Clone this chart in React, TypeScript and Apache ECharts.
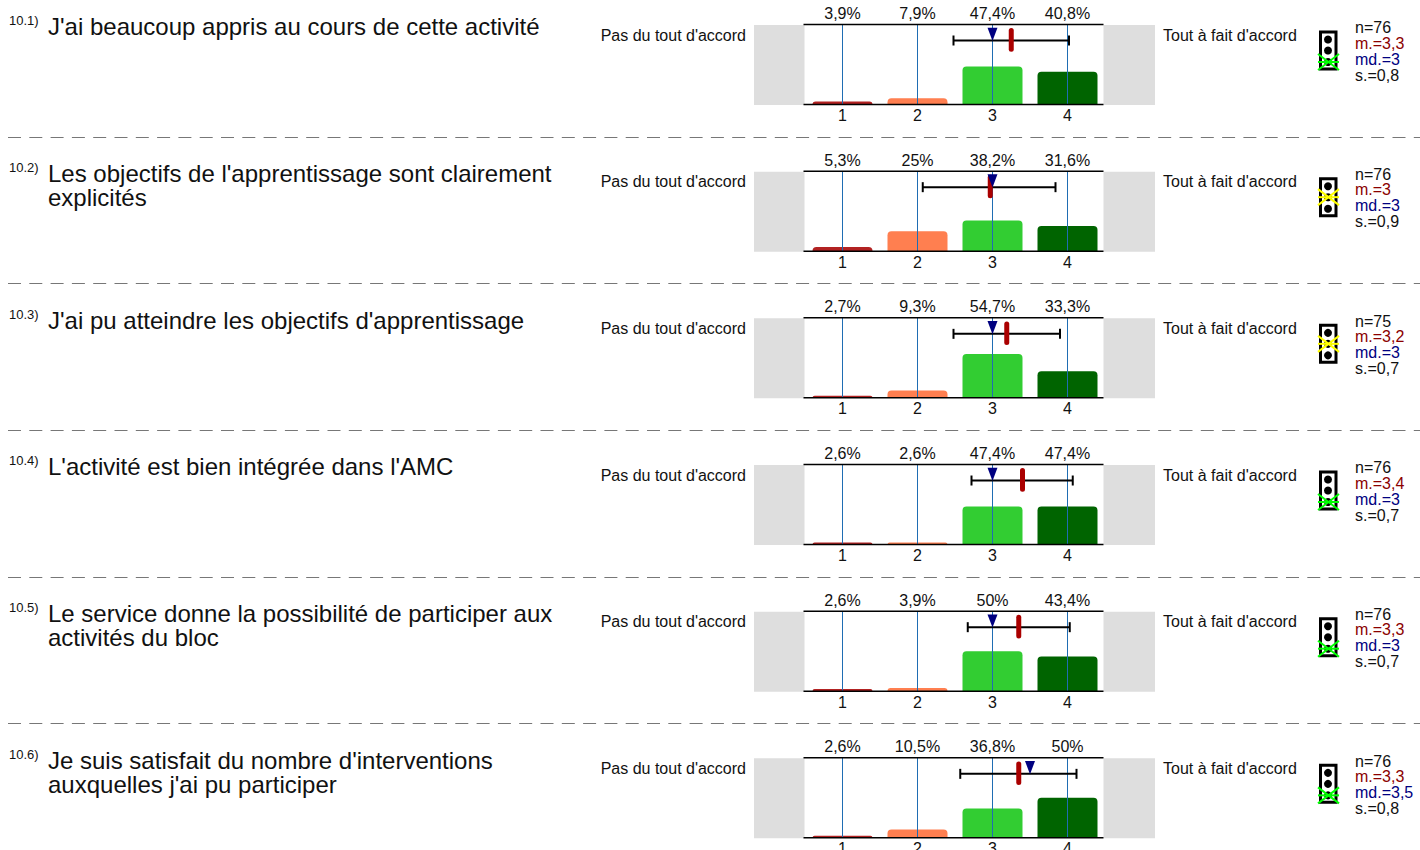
import React, { useEffect, useRef } from "react";
import * as echarts from "echarts";

const categories = ["1", "2", "3", "4"];
const questionIds = ["10.1)", "10.2)", "10.3)", "10.4)", "10.5)", "10.6)"];
const questions = [
  ["J'ai beaucoup appris au cours de cette activité"],
  ["Les objectifs de l'apprentissage sont clairement", "explicités"],
  ["J'ai pu atteindre les objectifs d'apprentissage"],
  ["L'activité est bien intégrée dans l'AMC"],
  ["Le service donne la possibilité de participer aux", "activités du bloc"],
  ["Je suis satisfait du nombre d'interventions", "auxquelles j'ai pu participer"],
];
const shares = [
  [3.9, 7.9, 47.4, 40.8],
  [5.3, 25, 38.2, 31.6],
  [2.7, 9.3, 54.7, 33.3],
  [2.6, 2.6, 47.4, 47.4],
  [2.6, 3.9, 50, 43.4],
  [2.6, 10.5, 36.8, 50],
];
const means = [3.25, 2.97, 3.19, 3.4, 3.35, 3.35];
const medians = [3, 3, 3, 3, 3, 3.5];
const lows = [2.48, 2.07, 2.48, 2.72, 2.67, 2.57];
const highs = [4.02, 3.84, 3.9, 4.07, 4.03, 4.12];
const nLabels = ["n=76", "n=76", "n=75", "n=76", "n=76", "n=76"];
const meanLabels = ["m.=3,3", "m.=3", "m.=3,2", "m.=3,4", "m.=3,3", "m.=3,3"];
const medianLabels = ["md.=3", "md.=3", "md.=3", "md.=3", "md.=3", "md.=3,5"];
const sdLabels = ["s.=0,8", "s.=0,9", "s.=0,7", "s.=0,7", "s.=0,7", "s.=0,8"];
const lightColors = ["#00FF00", "#FFFF00", "#FFFF00", "#00FF00", "#00FF00", "#00FF00"];
const lightSlots = [2, 1, 1, 2, 2, 2];
const leftLabel = "Pas du tout d'accord";
const rightLabel = "Tout à fait d'accord";
const barColors = ["#B22222", "#FF7F50", "#32CD32", "#006400"];

const FONT = '"Liberation Sans", Arial, sans-serif';
const ROW = 146.67;

function buildOption() {
  const grid: any[] = [];
  const xAxis: any[] = [];
  const yAxis: any[] = [];
  const series: any[] = [];
  const graphic: any[] = [];

  questions.forEach((lines, i) => {
    const off = i * ROW;
    grid.push({ left: 805, width: 300, top: 24.5 + off, height: 80, outerBoundsMode: "none", containLabel: false });
    xAxis.push({
      type: "category", gridIndex: i, position: "bottom", data: categories,
      axisLine: { show: false }, axisTick: { show: false },
      axisLabel: { color: "#111", fontSize: 16, fontFamily: FONT, margin: 3 },
    });
    xAxis.push({
      type: "category", gridIndex: i, position: "top", data: shares[i].map((v) => `${v}%`.replace(".", ",")),
      axisLine: { show: false }, axisTick: { show: false },
      axisLabel: { color: "#111", fontSize: 16, fontFamily: FONT, margin: 3 },
    });
    xAxis.push({ type: "value", gridIndex: i, min: 0.5, max: 4.5, show: false });
    yAxis.push({ type: "value", gridIndex: i, min: 0, max: 100, show: false });

    series.push({
      type: "bar", xAxisIndex: i * 3, yAxisIndex: i, barWidth: 60, z: 2,
      itemStyle: { borderRadius: [4, 4, 0, 0] },
      data: shares[i].map((v, k) => ({ value: v, itemStyle: { color: barColors[k] } })),
    });
    series.push({
      type: "custom", xAxisIndex: i * 3 + 2, yAxisIndex: i, z: 3, silent: true,
      data: categories.map((c) => [Number(c)]),
      renderItem: (_: any, api: any) => {
        const a = api.coord([api.value(0), 0]);
        const b = api.coord([api.value(0), 100]);
        return { type: "line", shape: { x1: a[0], y1: a[1], x2: b[0], y2: b[1] }, style: { stroke: "#1F6DB3", lineWidth: 1 } };
      },
    });
    series.push({
      type: "custom", xAxisIndex: i * 3 + 2, yAxisIndex: i, z: 4, silent: true,
      data: [[lows[i], highs[i]]],
      renderItem: (_: any, api: any) => {
        const a = api.coord([api.value(0), 80]);
        const b = api.coord([api.value(1), 80]);
        const st = { stroke: "#000", lineWidth: 2 };
        return {
          type: "group",
          children: [
            { type: "line", shape: { x1: a[0], y1: a[1], x2: b[0], y2: b[1] }, style: st },
            { type: "line", shape: { x1: a[0], y1: a[1] - 5, x2: a[0], y2: a[1] + 5 }, style: st },
            { type: "line", shape: { x1: b[0], y1: b[1] - 5, x2: b[0], y2: b[1] + 5 }, style: st },
          ],
        };
      },
    });
    series.push({
      type: "custom", xAxisIndex: i * 3 + 2, yAxisIndex: i, z: 5, silent: true,
      data: [[means[i]]],
      renderItem: (_: any, api: any) => {
        const t = api.coord([api.value(0), 95.5]);
        const b = api.coord([api.value(0), 66]);
        return {
          type: "rect",
          shape: { x: t[0] - 2.5, y: t[1], width: 5, height: b[1] - t[1], r: 2.5 },
          style: { fill: "#AA0000" },
        };
      },
    });
    series.push({
      type: "custom", xAxisIndex: i * 3 + 2, yAxisIndex: i, z: 6, silent: true,
      data: [[medians[i]]],
      renderItem: (_: any, api: any) => {
        const t = api.coord([api.value(0), 96]);
        const b = api.coord([api.value(0), 79.5]);
        return {
          type: "polygon",
          shape: { points: [[t[0] - 5, t[1]], [t[0] + 5, t[1]], [b[0], b[1]]] },
          style: { fill: "#000080" },
        };
      },
    });

    // side panels and frame lines
    graphic.push({ type: "rect", z: 0, shape: { x: 754, y: 25 + off, width: 50.5, height: 80 }, style: { fill: "#DEDEDE" } });
    graphic.push({ type: "rect", z: 0, shape: { x: 1103.5, y: 25 + off, width: 51.5, height: 80 }, style: { fill: "#DEDEDE" } });
    [24.5, 104.5].forEach((y) =>
      graphic.push({
        type: "line", z: 20, shape: { x1: 803.5, y1: y + off, x2: 1103.5, y2: y + off },
        style: { stroke: "#000", lineWidth: 1.5 },
      })
    );

    const txt = (text: string, x: number, y: number, size: number, fill = "#111", align = "left") => ({
      type: "text", z: 10, x, y,
      style: { text, fill, font: `${size}px ${FONT}`, align, verticalAlign: "middle" },
    });
    const tOff = off + 0.3;
    graphic.push(txt(questionIds[i], 9, 20.5 + tOff, 13));
    lines.forEach((l, k) => graphic.push(txt(l, 48, 26.5 + tOff + k * 24.5, 24)));
    graphic.push(txt(leftLabel, 746, 35 + off, 16, "#111", "right"));
    graphic.push(txt(rightLabel, 1163, 35 + off, 16));
    graphic.push(txt(nLabels[i], 1355, 27.8 + off, 16));
    graphic.push(txt(meanLabels[i], 1355, 43.3 + off, 16, "#8B0000"));
    graphic.push(txt(medianLabels[i], 1355, 59.3 + off, 16, "#000080"));
    graphic.push(txt(sdLabels[i], 1355, 75.3 + off, 16));

    // traffic light
    graphic.push({
      type: "rect", z: 10, shape: { x: 1320.5, y: 32 + off, width: 15.5, height: 37 },
      style: { fill: "#fff", stroke: "#000", lineWidth: 3 },
    });
    [39.5, 50.5, 62].forEach((cy) =>
      graphic.push({ type: "circle", z: 11, shape: { cx: 1328, cy: cy + off, r: 4 }, style: { fill: "#000" } })
    );
    const cy = [39.5, 50.5, 62][lightSlots[i]] + off;
    const st = { stroke: lightColors[i], lineWidth: 2 };
    graphic.push({ type: "line", z: 12, shape: { x1: 1318, y1: cy - 8, x2: 1339, y2: cy + 8 }, style: st });
    graphic.push({ type: "line", z: 12, shape: { x1: 1318, y1: cy + 8, x2: 1339, y2: cy - 8 }, style: st });
    graphic.push({ type: "line", z: 12, shape: { x1: 1318, y1: cy, x2: 1339, y2: cy }, style: st });

    if (i < questions.length - 1) {
      const y = Math.round(136.8 + off) + 0.5;
      graphic.push({
        type: "line", z: 1, shape: { x1: 8, y1: y, x2: 1420, y2: y },
        style: { stroke: "#777", lineWidth: 1, lineDash: [13, 8.3] },
      });
    }
  });

  return { animation: false, backgroundColor: "#fff", grid, xAxis, yAxis, series, graphic };
}

export default function App() {
  const ref = useRef<HTMLDivElement>(null);
  useEffect(() => {
    const chart = echarts.init(ref.current!, undefined, { renderer: "svg" });
    chart.setOption(buildOption());
    return () => chart.dispose();
  }, []);
  return <div ref={ref} style={{ position: "absolute", left: 0, top: 0, width: 1420, height: 850 }} />;
}
